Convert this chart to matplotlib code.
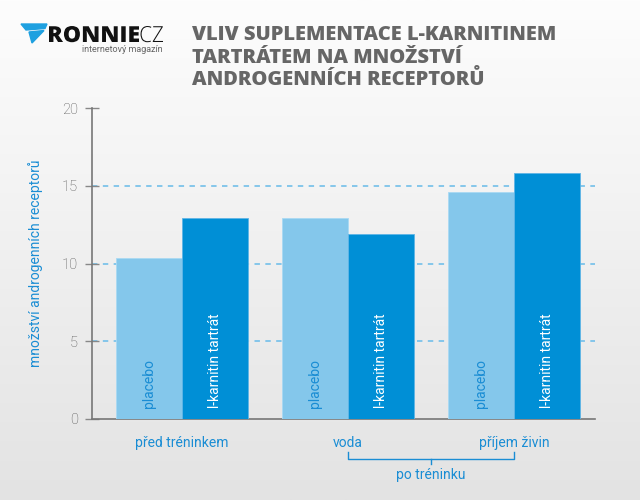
import numpy as np
import matplotlib.pyplot as plt
from matplotlib.colors import LinearSegmentedColormap
from matplotlib.patches import Polygon, PathPatch
from matplotlib.textpath import TextPath
from matplotlib.font_manager import FontProperties
from matplotlib.transforms import Affine2D

# ------------------------------------------------------------------ #
#  Data
# ------------------------------------------------------------------ #
groups   = ["před tréninkem", "voda", "příjem živin"]
placebo  = [10.35, 12.9, 14.6]
karnitin = [12.9, 11.9, 15.85]
series   = ["placebo", "l-karnitin tartrát"]
yticks   = [0, 5, 10, 15, 20]
subgroup = "po tréninku"
title    = "VLIV SUPLEMENTACE L-KARNITINEM\nTARTRÁTEM NA MNOŽSTVÍ\nANDROGENNÍCH RECEPTORŮ"

LIGHT = "#84c7eb"
DARK  = "#008fd6"
TXT   = "#1a8dd4"
GREY  = "#666666"

plt.rcParams["font.family"] = ["Roboto", "DejaVu Sans"]

fig = plt.figure(figsize=(6.4, 5), dpi=100)

# background gradient ------------------------------------------------
bg = fig.add_axes([0, 0, 1, 1], zorder=-10)
grad = np.linspace(0, 1, 256).reshape(-1, 1)
bg.imshow(grad, aspect="auto", extent=[0, 1, 0, 1], origin="upper",
          cmap=LinearSegmentedColormap.from_list("g", ["#fdfdfd", "#e3e3e3"]))
bg.set_axis_off()

# main axes ----------------------------------------------------------
ax = fig.add_axes([92/640, 1-419/500, 503/640, 311/500])
ax.set_facecolor("none")

x = np.arange(len(groups))
w = 0.4
ax.bar(x - w/2, placebo, w, color=LIGHT, edgecolor="#a9d9f3", linewidth=0.6, zorder=3)
ax.bar(x + w/2, karnitin, w, color=DARK, edgecolor="#5fb5e6", linewidth=0.6, zorder=3)

for y in yticks[1:-1]:
    ax.axhline(y, color="#7cc3ea", lw=1.3, ls=(0, (3, 3)), zorder=1)

for xi in x:
    ax.text(xi - w/2, 0.7, series[0], rotation=90, ha="center", va="bottom",
            color=TXT, fontsize=10, zorder=4)
    ax.text(xi + w/2, 0.7, series[1], rotation=90, ha="center", va="bottom",
            color="white", fontsize=10, zorder=4)

ax.set_xlim(-0.542, 2.488)
ax.set_ylim(0, 20)
ax.set_yticks(yticks)
ax.set_xticks([])
ax.tick_params(axis="y", direction="inout", length=10, width=1, color="#888888",
               labelsize=10.5, labelcolor="#555555", pad=5)
for lab in ax.get_yticklabels():
    lab.set_fontweight("light")
for s in ("top", "right"):
    ax.spines[s].set_visible(False)
for s in ("left", "bottom"):
    ax.spines[s].set_color("#777777")
    ax.spines[s].set_linewidth(1.2)
ax.set_ylabel("množství androgenních receptorů", color=TXT, fontsize=10, labelpad=14)

# category labels under the axis
trans = ax.get_xaxis_transform()
for xi, g in zip(x, groups):
    ax.text(xi, -24/311, g, transform=trans, ha="center", va="center",
            color=TXT, fontsize=10)

# bracket for the two post-training groups
bx0, bx1 = x[1], x[2]
yb = -40/311
ax.plot([bx0, bx0, bx1, bx1], [yb + 7/311, yb, yb, yb + 7/311], color=TXT, lw=1,
        transform=trans, clip_on=False)
ax.plot([(bx0+bx1)/2]*2, [yb, yb - 5/311], color=TXT, lw=1, transform=trans, clip_on=False)
ax.text((bx0+bx1)/2, yb - 16.5/311, subgroup, transform=trans, ha="center", va="center",
        color=TXT, fontsize=10)

# title --------------------------------------------------------------
fig.text(192/640, 1-25/500, title, ha="left", va="top", color=GREY,
         fontsize=14.5, fontweight="heavy", family=["Open Sans", "DejaVu Sans"],
         linespacing=1.18)

# logo ---------------------------------------------------------------
def P(px, py):
    return (px/640, 1-py/500)

fig.patches.append(Polygon([P(21, 24), P(47, 24), P(45, 28.5), P(26, 30)], closed=True,
                           color="#1ea0e0", transform=fig.transFigure))
fig.patches.append(Polygon([P(29, 32), P(44, 30.5), P(32, 43)], closed=True,
                           color="#1ea0e0", transform=fig.transFigure))


def stretched_text(s, x0, x1, y_top, y_base, weight):
    """Draw text s squeezed into a pixel box (wide logo lettering)."""
    tp = TextPath((0, 0), s, size=1, prop=FontProperties(family="Open Sans", weight=weight))
    ext = tp.get_extents()
    sx = (x1 - x0) / 640 / ext.width
    sy = (y_base - y_top) / 500 / ext.y1
    tr = Affine2D().translate(-ext.x0, 0).scale(sx, sy).translate(x0/640, 1-y_base/500)
    fig.patches.append(PathPatch(tp, color="#111111", lw=0,
                                 transform=tr + fig.transFigure))


stretched_text("RONNIE", 49, 139, 26, 42, "heavy")
stretched_text("CZ", 140.5, 163, 26, 42, "light")
fig.text(163/640, 1-50/500, "internetový magazín", ha="right", va="center",
         fontsize=6.5, color="#666666")

fig.savefig("out.png", dpi=100)
